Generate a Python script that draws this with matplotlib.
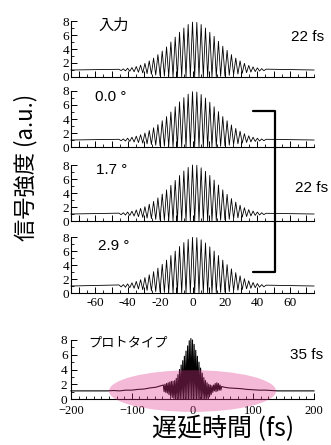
import numpy as np
import matplotlib
matplotlib.use("Agg")
import matplotlib.pyplot as plt
from matplotlib.patches import Ellipse
from matplotlib.lines import Line2D
from matplotlib.ticker import MultipleLocator, FuncFormatter

# ---------------- data ----------------
fringe_period = 2.67          # fs, carrier fringe spacing
first_fringe = -17            # index of first fringe peak in the stacked panels
baseline = 1.0

panel_labels = ["入力", "0.0 °", "1.7 °", "2.9 °"]

# fringe peak heights (k = -17 ... 17) and trough heights (k+0.5, k = -17 ... 16)
input_peaks = [1.10, 1.15, 1.25, 1.35, 1.50, 1.70, 1.95, 2.30, 2.70, 3.20, 3.70, 4.30,
               5.00, 5.70, 6.40, 7.00, 7.50, 7.85, 7.80, 7.50, 7.00, 6.40, 5.80, 5.10,
               4.40, 3.80, 3.20, 2.70, 2.30, 1.95, 1.65, 1.45, 1.30, 1.20, 1.12]
input_troughs = [0.92, 0.88, 0.82, 0.75, 0.68, 0.58, 0.48, 0.38, 0.28, 0.20, 0.13, 0.08,
                 0.04, 0.03, 0.03, 0.02, 0.02, 0.02, 0.02, 0.03, 0.03, 0.04, 0.06, 0.10,
                 0.16, 0.24, 0.33, 0.43, 0.53, 0.62, 0.70, 0.78, 0.85, 0.90]

deg00_peaks = [1.10, 1.15, 1.25, 1.40, 1.55, 1.75, 2.00, 2.35, 2.75, 3.20, 3.75, 4.35,
               5.00, 5.75, 6.45, 7.05, 7.55, 7.90, 7.85, 7.50, 7.00, 6.40, 5.75, 5.05,
               4.35, 3.75, 3.15, 2.65, 2.25, 1.90, 1.60, 1.40, 1.25, 1.15, 1.10]
deg00_troughs = [0.90, 0.86, 0.80, 0.72, 0.64, 0.55, 0.45, 0.35, 0.26, 0.18, 0.12, 0.07,
                 0.04, 0.03, 0.02, 0.02, 0.02, 0.02, 0.02, 0.02, 0.03, 0.04, 0.07, 0.11,
                 0.18, 0.26, 0.36, 0.46, 0.56, 0.65, 0.73, 0.80, 0.86, 0.90]

deg17_peaks = [1.12, 1.18, 1.28, 1.40, 1.58, 1.80, 2.05, 2.40, 2.80, 3.30, 3.85, 4.45,
               5.10, 5.80, 6.50, 7.15, 7.65, 8.00, 7.95, 7.60, 7.10, 6.50, 5.85, 5.15,
               4.45, 3.80, 3.20, 2.70, 2.25, 1.90, 1.62, 1.42, 1.28, 1.18, 1.10]
deg17_troughs = [0.90, 0.85, 0.79, 0.71, 0.62, 0.52, 0.42, 0.33, 0.24, 0.16, 0.10, 0.06,
                 0.04, 0.03, 0.02, 0.02, 0.02, 0.02, 0.02, 0.02, 0.03, 0.04, 0.07, 0.11,
                 0.17, 0.25, 0.35, 0.45, 0.55, 0.64, 0.72, 0.80, 0.86, 0.91]

deg29_peaks = [1.15, 1.20, 1.30, 1.45, 1.65, 1.90, 2.20, 2.60, 3.05, 3.55, 4.10, 4.70,
               5.35, 6.00, 6.65, 7.20, 7.65, 7.95, 7.90, 7.60, 7.15, 6.60, 6.00, 5.35,
               4.70, 4.05, 3.45, 2.90, 2.45, 2.05, 1.75, 1.50, 1.35, 1.20, 1.12]
deg29_troughs = [0.88, 0.83, 0.76, 0.68, 0.58, 0.48, 0.38, 0.29, 0.21, 0.14, 0.09, 0.05,
                 0.03, 0.02, 0.02, 0.02, 0.02, 0.02, 0.02, 0.02, 0.03, 0.04, 0.06, 0.09,
                 0.14, 0.21, 0.30, 0.40, 0.50, 0.60, 0.68, 0.76, 0.83, 0.88]

panel_peaks = [input_peaks, deg00_peaks, deg17_peaks, deg29_peaks]
panel_troughs = [input_troughs, deg00_troughs, deg17_troughs, deg29_troughs]

# prototype panel
proto_label = "プロトタイプ"
proto_first_fringe = -18
proto_peaks = [1.9, 2.0, 2.1, 2.2, 2.3, 2.4, 2.4, 2.5, 2.8, 3.3, 4.0, 4.6, 5.2, 5.8,
               6.5, 7.2, 7.9, 8.2, 8.0, 7.4, 6.6, 5.8, 5.0, 4.2, 3.5, 2.9, 2.5, 2.2,
               2.0, 1.9, 1.8, 1.9, 2.1, 2.2, 2.1, 1.9, 1.7]
proto_troughs = [1.0, 0.9, 0.8, 0.6, 0.4, 0.2, 0.08, 0.03, 0.02, 0.02, 0.02, 0.02,
                 0.02, 0.02, 0.02, 0.02, 0.02, 0.02, 0.02, 0.02, 0.02, 0.02, 0.02, 0.02,
                 0.02, 0.02, 0.02, 0.1, 0.3, 0.6, 0.9, 1.1, 1.0, 1.1, 1.2, 1.2]
proto_left_t = [-200, -140, -130, -120, -110, -100, -90, -80, -70, -60, -52]
proto_left = [1.1, 1.1, 1.15, 1.1, 1.2, 1.2, 1.3, 1.35, 1.5, 1.6, 1.8]
proto_right_t = [52, 60, 70, 80, 90, 100, 110, 120, 130, 140, 200]
proto_right = [1.6, 1.5, 1.45, 1.4, 1.3, 1.25, 1.2, 1.2, 1.15, 1.1, 1.1]

durations = ["22 fs", "22 fs", "35 fs"]
ylabel = "信号強度 (a.u.)"
xlabel = "遅延時間 (fs)"
yticks = [0, 2, 4, 6, 8]
xticks_top = [-60, -40, -20, 0, 20, 40, 60]
xticks_bottom = [-200, -100, 0, 100, 200]

# ---------------- drawing ----------------
W, H = 331, 445
fig = plt.figure(figsize=(W / 100, H / 100), dpi=100)

CJK = ["Noto Sans CJK JP", "DejaVu Sans"]
SANS = ["Liberation Sans", "DejaVu Sans"]
SERIF = "Liberation Serif"
TICK_FS = 9.5


def fx(px):
    return px / W


def fy(py):
    return 1 - py / H


def fringe_xy(peaks, troughs, k0, xmin, xmax, pre_t=(), pre_y=(), post_t=(), post_y=()):
    t = list(pre_t) if pre_t else [xmin]
    y = list(pre_y) if pre_y else [baseline]
    for i, p in enumerate(peaks):
        t.append((k0 + i) * fringe_period)
        y.append(p)
        if i < len(troughs):
            t.append((k0 + i + 0.5) * fringe_period)
            y.append(troughs[i])
    if post_t:
        t += list(post_t)
        y += list(post_y)
    else:
        t.append(xmax)
        y.append(baseline)
    return np.array(t), np.array(y)


def style_axes(ax):
    for s in ("top", "right"):
        ax.spines[s].set_visible(False)
    for s in ("left", "bottom"):
        ax.spines[s].set_linewidth(0.8)
    ax.set_ylim(0, 8)
    ax.set_yticks(yticks)
    ax.yaxis.set_minor_locator(MultipleLocator(1))
    ax.tick_params(axis="both", which="major", direction="in", length=4, width=0.7,
                   labelsize=TICK_FS, pad=1.5)
    ax.tick_params(axis="both", which="minor", direction="in", length=2.2, width=0.6)
    for lab in ax.get_yticklabels():
        lab.set_fontfamily(SERIF)


left_px, right_px = 71, 314
panel_zero = [77, 147, 221, 293]
panel_h = 56

for i in range(4):
    ax = fig.add_axes([fx(left_px), fy(panel_zero[i]), fx(right_px - left_px), panel_h / H])
    t, y = fringe_xy(panel_peaks[i], panel_troughs[i], first_fringe, -75, 75)
    ax.plot(t, y, color="black", lw=0.6, clip_on=False)
    ax.set_xlim(-75, 75)
    style_axes(ax)
    ax.xaxis.set_major_locator(MultipleLocator(10))
    ax.xaxis.set_minor_locator(MultipleLocator(5))
    if i == 3:
        ax.xaxis.set_major_formatter(FuncFormatter(
            lambda v, p: f"{int(round(v))}" if int(round(v)) in xticks_top else ""))
        ax.tick_params(axis="x", pad=3)
        for lab in ax.get_xticklabels():
            lab.set_fontfamily(SERIF)
    else:
        ax.set_xticklabels([])

# prototype panel
axp = fig.add_axes([fx(left_px), fy(399), fx(right_px - left_px), 59 / H])
t, y = fringe_xy(proto_peaks, proto_troughs, proto_first_fringe, -200, 200,
                 proto_left_t, proto_left, proto_right_t, proto_right)
axp.plot(t, y, color="black", lw=0.8, clip_on=False, zorder=2)
axp.set_xlim(-200, 200)
style_axes(axp)
axp.set_xticks(xticks_bottom)
axp.xaxis.set_minor_locator(MultipleLocator(12.5))
axp.tick_params(axis="x", pad=4.5, labelsize=9)
axp.tick_params(axis="y", pad=2.5)
for lab in axp.get_xticklabels():
    lab.set_fontfamily(SERIF)
ell = Ellipse((0, 1.08), width=275, height=5.65, facecolor="#E2378D", alpha=0.35,
              edgecolor="none", clip_on=False, zorder=3)
axp.add_patch(ell)

# panel labels
label_pos = [(98, 25), (95, 97), (96, 170), (98, 246)]
for j, ((px, py), txt) in enumerate(zip(label_pos, panel_labels)):
    fig.text(fx(px), fy(py), txt, ha="left", va="center",
             fontsize=11, family=CJK if j == 0 else SANS)
fig.text(fx(88), fy(343), proto_label, ha="left", va="center", fontsize=9.5, family=CJK)

# durations
fig.text(fx(308), fy(37), durations[0], ha="center", va="center", fontsize=11, family=SANS)
fig.text(fx(312), fy(188), durations[1], ha="center", va="center", fontsize=11, family=SANS)
fig.text(fx(307), fy(355), durations[2], ha="center", va="center", fontsize=11, family=SANS)

# bracket
bx = [fx(253), fx(275), fx(275), fx(253)]
by = [fy(111), fy(111), fy(272), fy(272)]
fig.add_artist(Line2D(bx, by, transform=fig.transFigure, color="black", lw=1.6,
                      solid_joinstyle="round", solid_capstyle="round"))

# axis labels
fig.text(fx(26), fy(167), ylabel, rotation=90, ha="center", va="center",
         fontsize=16, family=CJK)
fig.text(fx(223), fy(429), xlabel, ha="center", va="center", fontsize=18, family=CJK)

fig.savefig("out.png", dpi=100)
